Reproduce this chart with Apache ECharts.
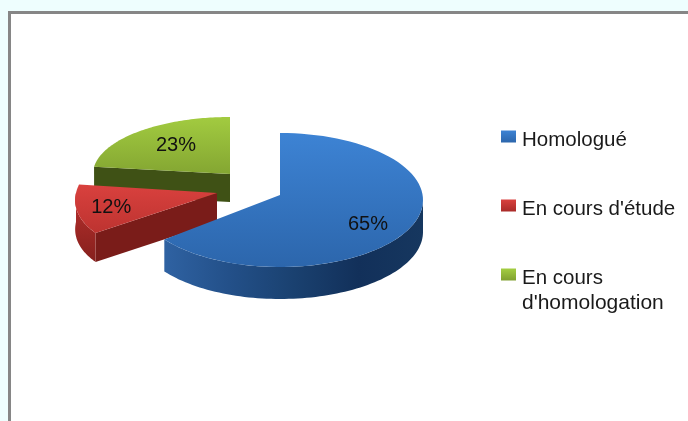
<!DOCTYPE html>
<html>
<head>
<meta charset="utf-8">
<script src="https://cdn.jsdelivr.net/npm/echarts@6/dist/echarts.min.js"></script>
<style>
  html, body { margin: 0; padding: 0; background: #eefefe; }
  #chart { width: 688px; height: 421px; }
</style>
</head>
<body>
<div id="chart"></div>
<script>
const categories = ['Homologué', "En cours d'étude", 'En cours'];
const wrappedLine = "d'homologation";
const values = [65, 12, 23];
const labels = ['65%', '12%', '23%'];

const font = '"Liberation Sans", Arial, sans-serif';
const total = values.reduce((a, b) => a + b, 0);

function vgrad(c1, c2) {
  return new echarts.graphic.LinearGradient(0, 0, 0, 1, [
    {offset: 0, color: c1}, {offset: 1, color: c2}
  ]);
}
function hgrad(stops) {
  return new echarts.graphic.LinearGradient(0, 0, 1, 0, stops.map((c, i) => ({offset: i / (stops.length - 1), color: c})));
}

// each slice is pulled out of the pie on its own, so it has its own ellipse
const layout = [
  {cx: 280, cy: 200, rx: 143, ry: 67, depth: 32, apexDy: -5, persp: 0, labelR: .69, labelDy: 3,
    top: vgrad('#3d83d4', '#2c66ac'), cut: '#1f4a82',
    wall: hgrad(['#2f62a2', '#235089', '#1a4170', '#12305a', '#16375f'])},
  {cx: 217, cy: 193, rx: 141, ry: 68, depth: 29, apexDy: 0, persp: .11, labelR: .775, labelDy: 1,
    top: vgrad('#d9413e', '#bd3330'), cut: '#7a1c19',
    wall: vgrad('#b8302d', '#86201d')},
  {cx: 230, cy: 174, rx: 137, ry: 57, depth: 28, apexDy: 0, persp: 0, labelR: .596, labelDy: -3,
    top: vgrad('#a2cb40', '#84a632'), cut: '#3f5115',
    wall: '#3f5115'}
];

function makeRender(idx) {
  return function (params, api) {
    const s = layout[idx];
    const before = values.slice(0, idx).reduce((a, b) => a + b, 0);
    const a0 = before / total * Math.PI * 2;
    const a1 = a0 + api.value(0) / total * Math.PI * 2;
    const pt = a => {
      const scale = 1 - s.persp * Math.cos(a);
      return [s.cx + s.rx * scale * Math.sin(a), s.cy - s.ry * Math.cos(a)];
    };
    const apex = [s.cx, s.cy + s.apexDy];
    const arc = (from, to) => {
      const out = [];
      for (let i = 0; i <= 80; i++) out.push(pt(from + (to - from) * i / 80));
      return out;
    };
    const down = p => [p[0], p[1] + s.depth];
    const children = [];

    // cut face at the slice start, the blue one turns away from the viewer
    if (idx > 0) {
      const p = pt(a0);
      children.push({
        type: 'polygon',
        shape: {points: [apex, p, down(p), down(apex)]},
        style: {fill: s.cut}
      });
    }

    // rim, lower half of the ellipse only
    const wallFrom = Math.max(a0, Math.PI / 2);
    const wallTo = Math.min(a1, Math.PI * 1.5);
    if (wallTo > wallFrom) {
      const rim = arc(wallFrom, wallTo);
      children.push({
        type: 'polygon',
        shape: {points: rim.concat(rim.slice().reverse().map(down))},
        style: {fill: s.wall}
      });
    }

    children.push({
      type: 'polygon',
      shape: {points: [apex].concat(arc(a0, a1))},
      style: {fill: s.top}
    });

    const mid = (a0 + a1) / 2;
    children.push({
      type: 'text',
      style: {
        text: labels[idx],
        x: s.cx + s.rx * s.labelR * Math.sin(mid),
        y: s.cy - s.ry * s.labelR * Math.cos(mid) + s.labelDy,
        align: 'center',
        verticalAlign: 'middle',
        fill: '#111',
        font: '20px ' + font
      }
    });
    return {type: 'group', children};
  };
}

const legendTops = [129.5, 198.5, 267.5];
const legendColors = [vgrad('#3d83d4', '#2c66ac'), vgrad('#d9413e', '#a92b29'), vgrad('#a4ce42', '#80a030')];

const chart = echarts.init(document.getElementById('chart'), null, {renderer: 'canvas'});
chart.setOption({
  animation: false,
  backgroundColor: '#eefefe',
  graphic: [
    {
      type: 'rect',
      shape: {x: 9.5, y: 12.5, width: 700, height: 430},
      style: {fill: '#fff', stroke: '#868686', lineWidth: 3}
    },
    {
      type: 'text',
      x: 522,
      y: 303,
      z: 5,
      style: {text: wrappedLine, fill: '#1a1a1a', font: '21px ' + font, verticalAlign: 'middle'}
    }
  ],
  legend: categories.map((name, i) => ({
    left: 501,
    top: legendTops[i],
    padding: 0,
    orient: 'vertical',
    selectedMode: false,
    itemWidth: 15,
    itemHeight: 12,
    icon: 'rect',
    data: [{name, itemStyle: {color: legendColors[i]}}],
    formatter: '{t|{name}}',
    // the text sits a little below its swatch
    textStyle: {rich: {t: {fontFamily: font, fontSize: 20.5, color: '#1a1a1a', padding: [7, 0, 0, 1]}}}
  })),
  series: categories.map((name, i) => ({
    type: 'custom',
    name,
    coordinateSystem: 'none',
    silent: true,
    z: 4 - i,
    data: [[values[i]]],
    renderItem: makeRender(i)
  }))
});
</script>
</body>
</html>
